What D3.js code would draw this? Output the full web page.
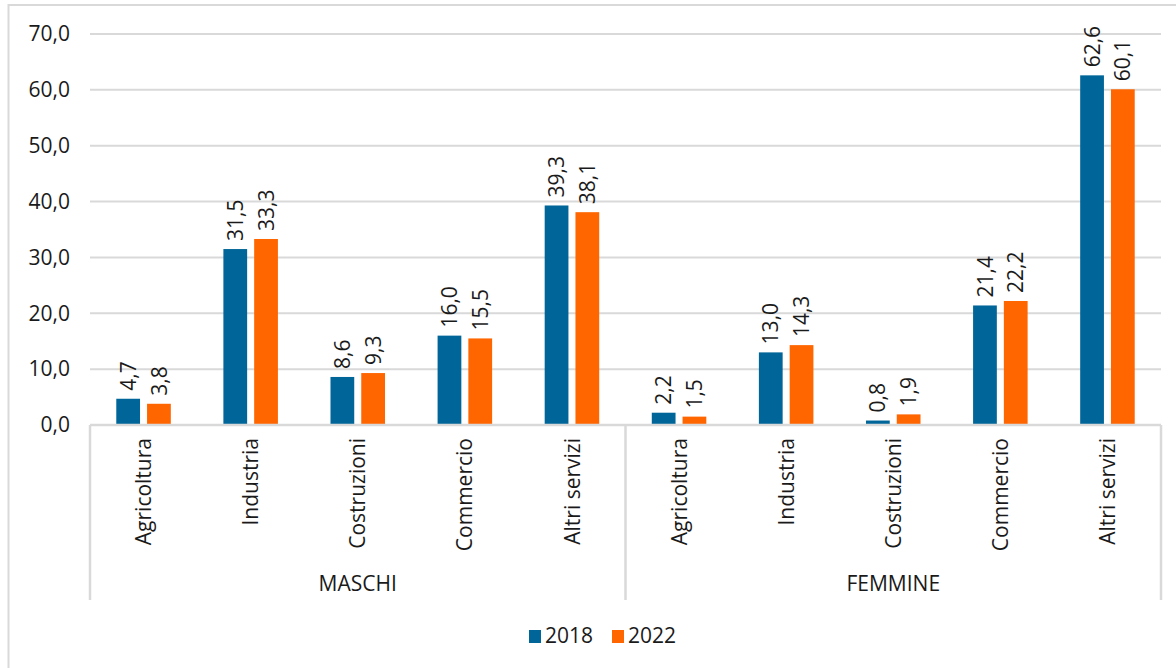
<!DOCTYPE html>
<html><head><meta charset="utf-8">
<script src="https://cdn.jsdelivr.net/npm/d3@7"></script>
<style>body{margin:0;background:#fff}svg{display:block}</style>
</head><body><svg id="c" width="1176" height="668"></svg>
<script>
const groups = ["MASCHI", "FEMMINE"];
const sectors = ["Agricoltura", "Industria", "Costruzioni", "Commercio", "Altri servizi"];
const years = ["2018", "2022"];
const maschi2018 = [4.7, 31.5, 8.6, 16.0, 39.3];
const maschi2022 = [3.8, 33.3, 9.3, 15.5, 38.1];
const femmine2018 = [2.2, 13.0, 0.8, 21.4, 62.6];
const femmine2022 = [1.5, 14.3, 1.9, 22.2, 60.1];
const yTicks = [0, 10, 20, 30, 40, 50, 60, 70];
const colors = ["#006699", "#ff6600"];

const rows = [];
groups.forEach((g, gi) => sectors.forEach((s, si) => {
  const v18 = gi === 0 ? maschi2018[si] : femmine2018[si];
  const v22 = gi === 0 ? maschi2022[si] : femmine2022[si];
  rows.push({key: g + "|" + s, group: g, sector: s, values: [v18, v22]});
}));

const svg = d3.select("#c");
const FONT = "'Open Sans', sans-serif";
const fmt = v => d3.format(".1f")(v).replace(".", ",");
const grey = "#d9d9d9";

const mLeft = 90, mRight = 1161, mTop = 34, mBottom = 425;
const x = d3.scaleBand().domain(rows.map(r => r.key)).range([mLeft, mRight]);
const xs = d3.scaleBand().domain(years).range([0, x.bandwidth()]).paddingInner(0.228).paddingOuter(0.854);
const y = d3.scaleLinear().domain([0, 70]).range([mBottom, mTop]);

// outer frame
svg.append("path").attr("d", "M8.5,670 L8.5,5 L1180,5").attr("fill", "none").attr("stroke", grey).attr("stroke-width", 2);

// gridlines
svg.append("g").selectAll("line").data(yTicks).join("line")
  .attr("x1", mLeft).attr("x2", mRight)
  .attr("y1", d => y(d)).attr("y2", d => y(d))
  .attr("stroke", grey).attr("stroke-width", 2);

// y tick labels
svg.append("g").selectAll("text").data(yTicks).join("text")
  .attr("x", 70).attr("y", d => y(d)).attr("dy", "0.35em")
  .attr("text-anchor", "end").attr("font-family", FONT).attr("font-size", 21).attr("fill", "#1a1a1a")
  .text(d => fmt(d));

// bars
const cat = svg.append("g").selectAll("g").data(rows).join("g")
  .attr("transform", d => `translate(${x(d.key)},0)`);
cat.selectAll("rect").data(d => d.values.map((v, i) => ({v, year: years[i], i}))).join("rect")
  .attr("x", d => xs(d.year)).attr("width", xs.bandwidth())
  .attr("y", d => y(d.v)).attr("height", d => y(0) - y(d.v))
  .attr("fill", d => colors[d.i]);
cat.selectAll("text.val").data(d => d.values.map((v, i) => ({v, year: years[i], i}))).join("text")
  .attr("class", "val")
  .attr("transform", d => `translate(${xs(d.year) + xs.bandwidth() / 2},${y(d.v) - 8}) rotate(-90)`)
  .attr("dy", "0.36em").attr("text-anchor", "start")
  .attr("font-family", FONT).attr("font-size", 21).attr("fill", "#1a1a1a")
  .text(d => fmt(d.v));

// category axis
svg.append("line").attr("x1", mLeft).attr("x2", mRight).attr("y1", mBottom).attr("y2", mBottom)
  .attr("stroke", grey).attr("stroke-width", 2.5);
const divs = [mLeft, x(rows[5].key), mRight];
svg.append("g").selectAll("line").data(divs).join("line")
  .attr("x1", d => d).attr("x2", d => d).attr("y1", mBottom).attr("y2", 600)
  .attr("stroke", grey).attr("stroke-width", 2.5);

svg.append("g").selectAll("text").data(rows).join("text")
  .attr("transform", d => `translate(${x(d.key) + x.bandwidth() / 2},438) rotate(-90)`)
  .attr("dy", "0.36em").attr("text-anchor", "end")
  .attr("font-family", FONT).attr("font-size", 21).attr("fill", "#1a1a1a")
  .text(d => d.sector);

svg.append("g").selectAll("text").data(groups).join("text")
  .attr("x", (d, i) => (divs[i] + divs[i + 1]) / 2).attr("y", 591)
  .attr("text-anchor", "middle").attr("font-family", FONT).attr("font-size", 21).attr("fill", "#1a1a1a")
  .text(d => d);

// legend
const legX = [529, 612];
const leg = svg.append("g").selectAll("g").data(years).join("g")
  .attr("transform", (d, i) => `translate(${legX[i]},630)`);
leg.append("rect").attr("width", 12).attr("height", 13).attr("fill", (d, i) => colors[i]);
leg.append("text").attr("x", 16).attr("y", 13).attr("font-family", FONT).attr("font-size", 21).attr("fill", "#1a1a1a").text(d => d);
</script></body></html>
